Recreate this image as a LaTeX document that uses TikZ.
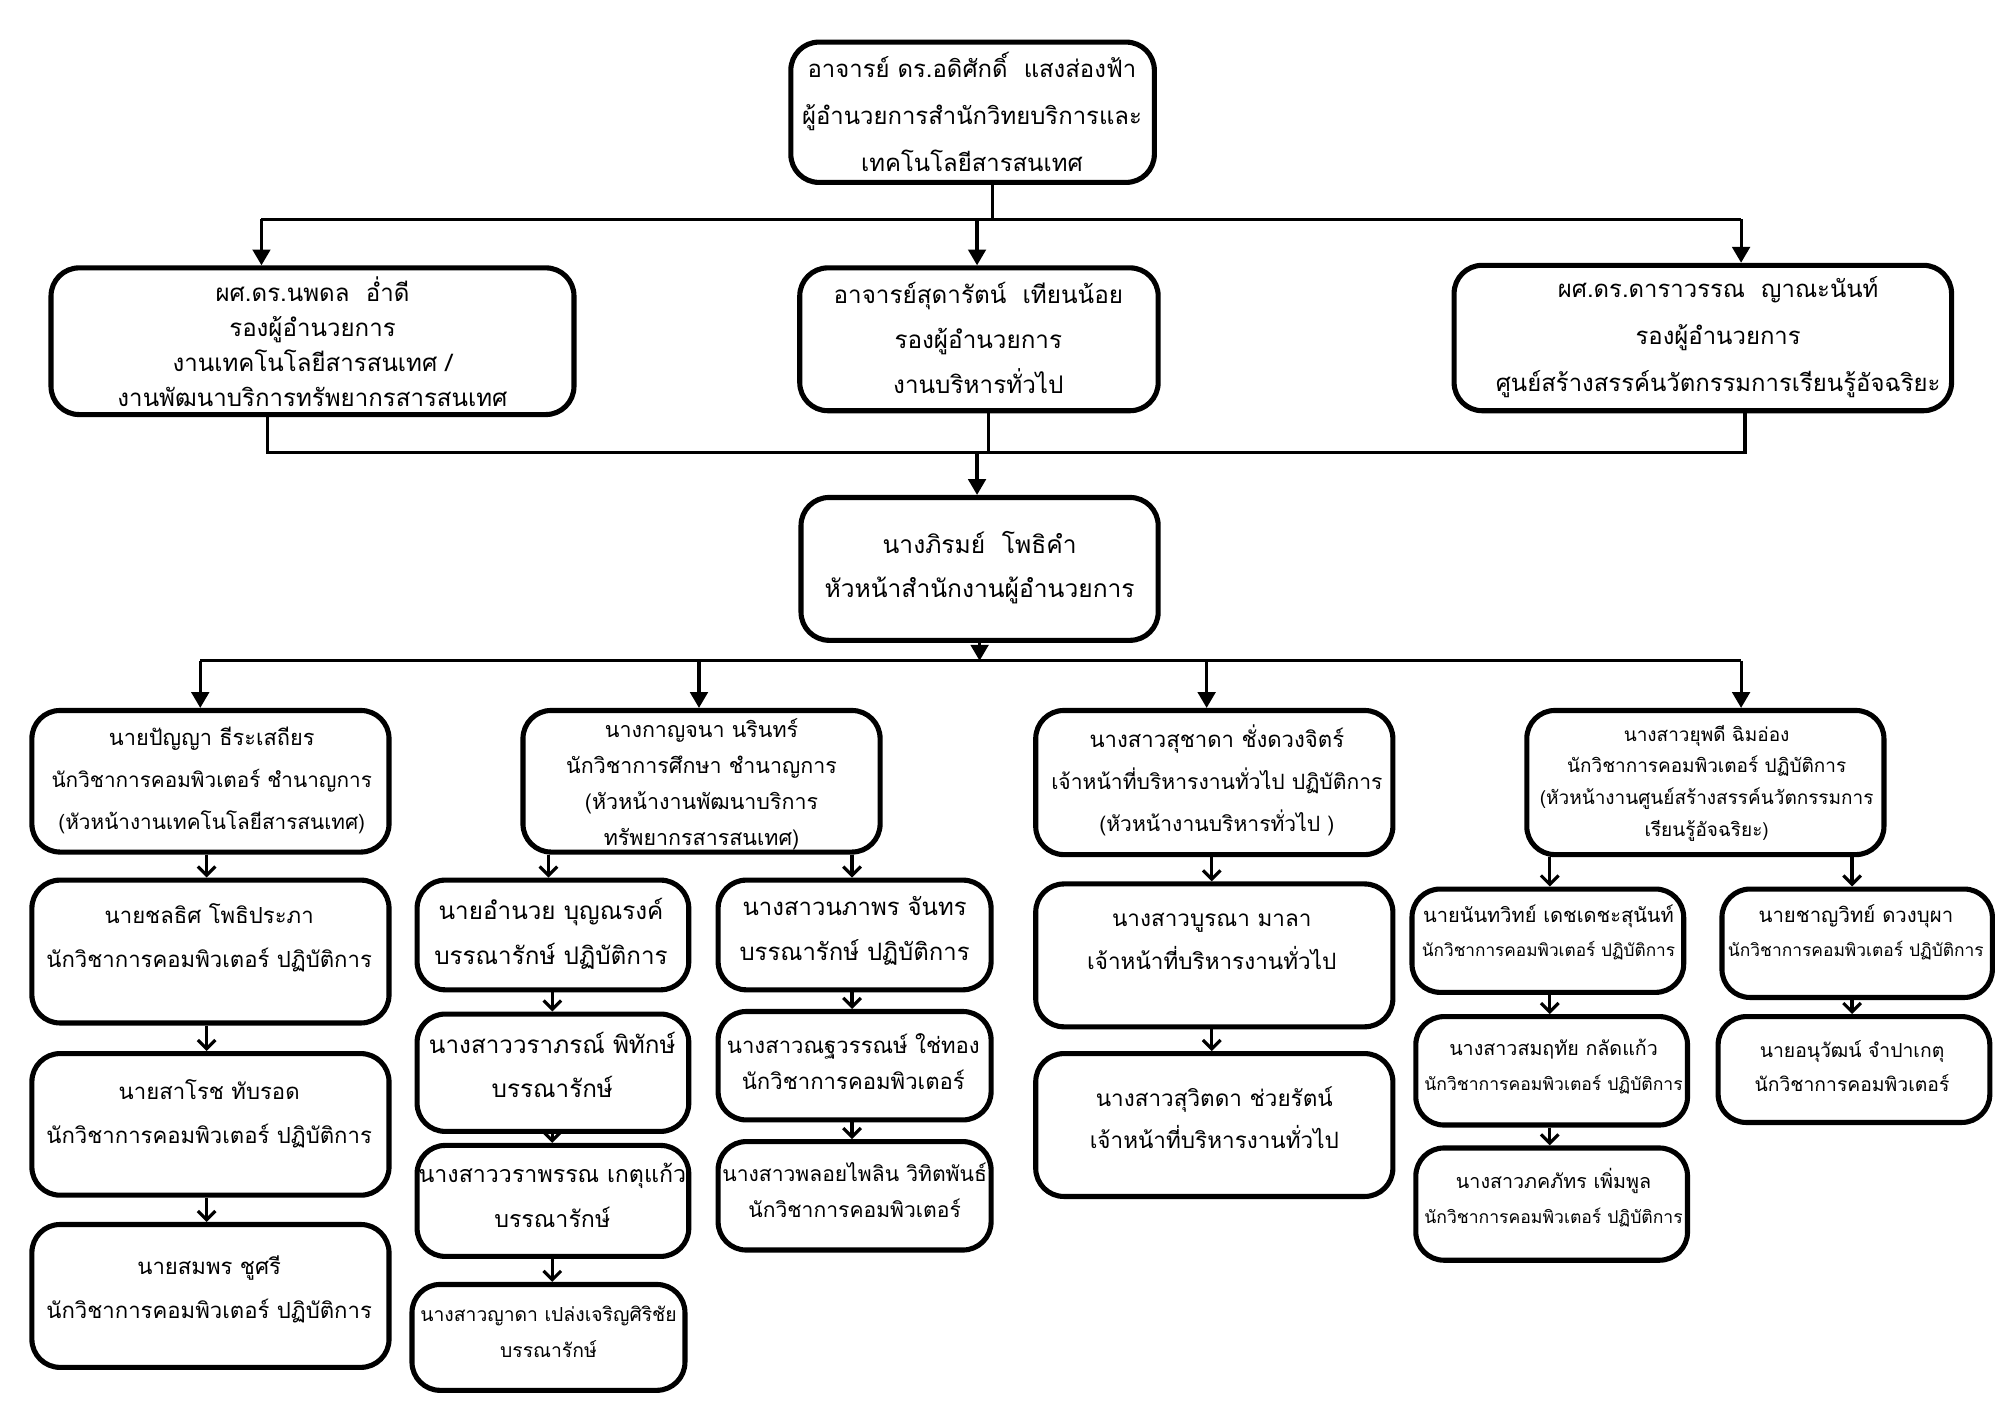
\documentclass[tikz,border=0pt]{standalone}
\usepackage{fontspec}
\setmainfont[Script=Thai]{Loma}
\usetikzlibrary{fit,arrows.meta}
\newcommand\fs[2]{\fontsize{#1}{#2}\selectfont}
\newcommand\bx[5]{\node[box, fit={(#2,#3) (#4,#5)}] (#1) {};}
\tikzset{
  box/.style={draw, line width=1.45pt, rounded corners=8pt, inner sep=0pt},
  ln/.style={line width=0.9pt},
  arr/.style={line width=0.9pt, -{Triangle[length=4.5pt,width=5pt]}},
  sarr/.style={line width=0.9pt, -{Straight Barb[length=2.5pt,width=5pt,line width=0.9pt]}},
  txt/.style={align=center, inner sep=0pt},
}
\begin{document}
\begin{tikzpicture}[x=0.012755cm, y=-0.012755cm]
\useasboundingbox (0,0) rectangle (1568,1108.6);
% ---------- top
\bx{top}{620}{33}{905}{143}
\node[txt, font=\fs{6.8pt}{13.4pt}] (topt) at (762,88) {อาจารย์ ดร.อดิศักดิ์\ \ แสงส่องฟ้า\\ผู้อำนวยการสำนักวิทยบริการและ\\เทคโนโลยีสารสนเทศ};
% ---------- row 2
\bx{rL}{40}{210}{450}{325}
\node[txt, font=\fs{6.85pt}{9.9pt}] (rLt) at (245,268) {ผศ.ดร.นพดล\ \ อ่ำดี\\รองผู้อำนวยการ\\งานเทคโนโลยีสารสนเทศ /\\งานพัฒนาบริการทรัพยากรสารสนเทศ};
\bx{rM}{627}{210}{908}{322}
\node[txt, font=\fs{6.9pt}{12.7pt}] (rMt) at (767,265) {อาจารย์สุดารัตน์\ \ เทียนน้อย\\รองผู้อำนวยการ\\งานบริหารทั่วไป};
\bx{rR}{1140}{208}{1530}{322}
\node[txt, font=\fs{6.8pt}{13.4pt}] (rRt) at (1347,264) {ผศ.ดร.ดาราวรรณ\ \ ญาณะนันท์\\รองผู้อำนวยการ\\ศูนย์สร้างสรรค์นวัตกรรมการเรียนรู้อัจฉริยะ};
% ---------- middle
\bx{mid}{628}{390}{908}{502}
\node[txt, font=\fs{7pt}{12.7pt}] (midt) at (768,445) {นางภิรมย์\ \ โพธิคำ\\หัวหน้าสำนักงานผู้อำนวยการ};
% ---------- column 1
\bx{ca1}{25}{557}{305}{668}
\node[txt, font=\fs{5.9pt}{12pt}] (ca1t) at (166,612) {{\fs{6.2pt}{12pt}นายปัญญา ธีระเสถียร}\\นักวิชาการคอมพิวเตอร์ ชำนาญการ\\(หัวหน้างานเทคโนโลยีสารสนเทศ)};
\bx{ca2}{25}{690}{305}{802}
\node[txt, font=\fs{6.3pt}{12.5pt}] (ca2t) at (164,735) {นายชลธิศ โพธิประภา\\นักวิชาการคอมพิวเตอร์ ปฏิบัติการ};
\bx{ca3}{25}{826}{305}{937}
\node[txt, font=\fs{6.3pt}{12.5pt}] (ca3t) at (164,873) {นายสาโรช ทับรอด\\นักวิชาการคอมพิวเตอร์ ปฏิบัติการ};
\bx{ca4}{25}{960}{305}{1072}
\node[txt, font=\fs{6.3pt}{12.5pt}] (ca4t) at (164,1011) {นายสมพร ชูศรี\\นักวิชาการคอมพิวเตอร์ ปฏิบัติการ};
% ---------- column 2
\bx{cb}{410}{557}{690}{668}
\node[txt, font=\fs{6.1pt}{10.2pt}] (cbt) at (550,615) {นางกาญจนา นรินทร์\\นักวิชาการศึกษา ชำนาญการ\\(หัวหน้างานพัฒนาบริการ\\ทรัพยากรสารสนเทศ)};
\bx{cba1}{327}{690}{540}{776}
\node[txt, font=\fs{6.9pt}{12.7pt}] (cba1t) at (432,732) {นายอำนวย บุญณรงค์\\บรรณารักษ์ ปฏิบัติการ};
\bx{cba2}{327}{795}{540}{887}
\node[txt, font=\fs{6.9pt}{12.7pt}] (cba2t) at (433,835) {นางสาววราภรณ์ พิทักษ์\\บรรณารักษ์};
\bx{cba3}{327}{898}{540}{985}
\node[txt, font=\fs{6.6pt}{12.7pt}] (cba3t) at (433,937) {นางสาววราพรรณ เกตุแก้ว\\บรรณารักษ์};
\bx{cba4}{323}{1007}{537}{1090}
\node[txt, font=\fs{5.5pt}{10.2pt}] (cba4t) at (430,1044) {นางสาวญาดา เปล่งเจริญศิริชัย\\บรรณารักษ์};
\bx{cbb1}{563}{690}{777}{776}
\node[txt, font=\fs{6.8pt}{12.7pt}] (cbb1t) at (670,730) {นางสาวนภาพร จันทร\\บรรณารักษ์ ปฏิบัติการ};
\bx{cbb2}{563}{793}{777}{878}
\node[txt, font=\fs{6.3pt}{10.2pt}] (cbb2t) at (669,832) {นางสาวณฐวรรณษ์ ใช่ทอง\\นักวิชาการคอมพิวเตอร์};
\bx{cbb3}{563}{895}{777}{980}
\node[txt, font=\fs{6pt}{10.2pt}] (cbb3t) at (670,933) {นางสาวพลอยไพลิน วิทิตพันธ์\\นักวิชาการคอมพิวเตอร์};
% ---------- column 3
\bx{cc1}{812}{557}{1092}{670}
\node[txt, font=\fs{6.0pt}{12pt}] (cc1t) at (954,612) {{\fs{6.3pt}{12pt}นางสาวสุชาดา ชั่งดวงจิตร์}\\เจ้าหน้าที่บริหารงานทั่วไป ปฏิบัติการ\\(หัวหน้างานบริหารทั่วไป )};
\bx{cc2}{812}{693}{1092}{805}
\node[txt, font=\fs{6.4pt}{12pt}] (cc2t) at (950,738) {นางสาวบูรณา มาลา\\เจ้าหน้าที่บริหารงานทั่วไป};
\bx{cc3}{812}{826}{1092}{938}
\node[txt, font=\fs{6.4pt}{12pt}] (cc3t) at (952,876) {นางสาวสุวิตดา ช่วยรัตน์\\เจ้าหน้าที่บริหารงานทั่วไป};
% ---------- column 4
\bx{cd}{1197}{557}{1477}{670}
\node[txt, font=\fs{5.4pt}{9pt}] (cdt) at (1338,614) {นางสาวยุพดี ฉิมอ่อง\\นักวิชาการคอมพิวเตอร์ ปฏิบัติการ\\(หัวหน้างานศูนย์สร้างสรรค์นวัตกรรมการ\\เรียนรู้อัจฉริยะ)};
\bx{cda1}{1107}{697}{1320}{778}
\node[txt, font=\fs{4.9pt}{9.8pt}] (cda1t) at (1214,731) {{\fs{5.7pt}{9.8pt}นายนันทวิทย์ เดชเดชะสุนันท์}\\นักวิชาการคอมพิวเตอร์ ปฏิบัติการ};
\bx{cda2}{1110}{797}{1323}{882}
\node[txt, font=\fs{5.0pt}{9.8pt}] (cda2t) at (1218,836) {{\fs{5.6pt}{9.8pt}นางสาวสมฤทัย กลัดแก้ว}\\นักวิชาการคอมพิวเตอร์ ปฏิบัติการ};
\bx{cda3}{1110}{900}{1323}{988}
\node[txt, font=\fs{5.0pt}{9.8pt}] (cda3t) at (1218,939) {{\fs{5.6pt}{9.8pt}นางสาวภคภัทร เพิ่มพูล}\\นักวิชาการคอมพิวเตอร์ ปฏิบัติการ};
\bx{cdb1}{1350}{697}{1562}{782}
\node[txt, font=\fs{4.95pt}{9.8pt}] (cdb1t) at (1455,731) {{\fs{5.8pt}{9.8pt}นายชาญวิทย์ ดวงบุผา}\\นักวิชาการคอมพิวเตอร์ ปฏิบัติการ};
\bx{cdb2}{1347}{797}{1560}{880}
\node[txt, font=\fs{5.5pt}{9.8pt}] (cdb2t) at (1452,836) {นายอนุวัฒน์ จำปาเกตุ\\นักวิชาการคอมพิวเตอร์};
% ---------- connectors: top -> row 2
\coordinate (j1) at (778,172);
\coordinate (j1l) at (205,172);
\coordinate (j1m) at (766,172);
\coordinate (j1r) at (1365,172);
\draw[ln] (top.south -| j1) -- (j1);
\draw[ln] (j1l) -- (j1r);
\draw[arr] (j1l) -- (rL.north -| j1l);
\draw[arr] (j1m) -- (rM.north -| j1m);
\draw[arr] (j1r) -- (rR.north -| j1r);
% row 2 -> middle
\coordinate (j2l) at (210,355);
\coordinate (j2m) at (775,355);
\coordinate (j2r) at (1368,355);
\coordinate (j2a) at (766,355);
\draw[ln] (rL.south -| j2l) -- (j2l) -- (j2r) -- (rR.south -| j2r);
\draw[ln] (rM.south -| j2m) -- (j2m);
\draw[arr] (j2a) -- (mid.north -| j2a);
% middle -> row 4
\coordinate (j3) at (768,518);
\coordinate (j3a) at (157,518);
\coordinate (j3b) at (548,518);
\coordinate (j3c) at (946,518);
\coordinate (j3d) at (1365,518);
\draw[arr] (mid.south -| j3) -- (j3);
\draw[ln] (j3a) -- (j3d);
\draw[arr] (j3a) -- (ca1.north -| j3a);
\draw[arr] (j3b) -- (cb.north -| j3b);
\draw[arr] (j3c) -- (cc1.north -| j3c);
\draw[arr] (j3d) -- (cd.north -| j3d);
% column arrows
\coordinate (xa) at (162,0);
\draw[sarr] (ca1.south -| xa) -- (ca2.north -| xa);
\draw[sarr] (ca2.south -| xa) -- (ca3.north -| xa);
\draw[sarr] (ca3.south -| xa) -- (ca4.north -| xa);
\coordinate (xb1) at (430,0);
\coordinate (xb2) at (668,0);
\coordinate (xb3) at (433,0);
\draw[sarr] (cb.south -| xb1) -- (cba1.north -| xb1);
\draw[sarr] (cb.south -| xb2) -- (cbb1.north -| xb2);
\draw[sarr] (cba1.south -| xb3) -- (cba2.north -| xb3);
\draw[sarr] (cba2.south -| xb3) -- (cba3.north -| xb3);
\draw[sarr] (cba3.south -| xb3) -- (cba4.north -| xb3);
\draw[sarr] (cbb1.south -| xb2) -- (cbb2.north -| xb2);
\draw[sarr] (cbb2.south -| xb2) -- (cbb3.north -| xb2);
\coordinate (xc) at (950,0);
\draw[sarr] (cc1.south -| xc) -- (cc2.north -| xc);
\draw[sarr] (cc2.south -| xc) -- (cc3.north -| xc);
\coordinate (xd1) at (1215,0);
\coordinate (xd2) at (1452,0);
\draw[sarr] (cd.south -| xd1) -- (cda1.north -| xd1);
\draw[sarr] (cd.south -| xd2) -- (cdb1.north -| xd2);
\draw[sarr] (cda1.south -| xd1) -- (cda2.north -| xd1);
\draw[sarr] (cda2.south -| xd1) -- (cda3.north -| xd1);
\draw[sarr] (cdb1.south -| xd2) -- (cdb2.north -| xd2);
\end{tikzpicture}
\end{document}
